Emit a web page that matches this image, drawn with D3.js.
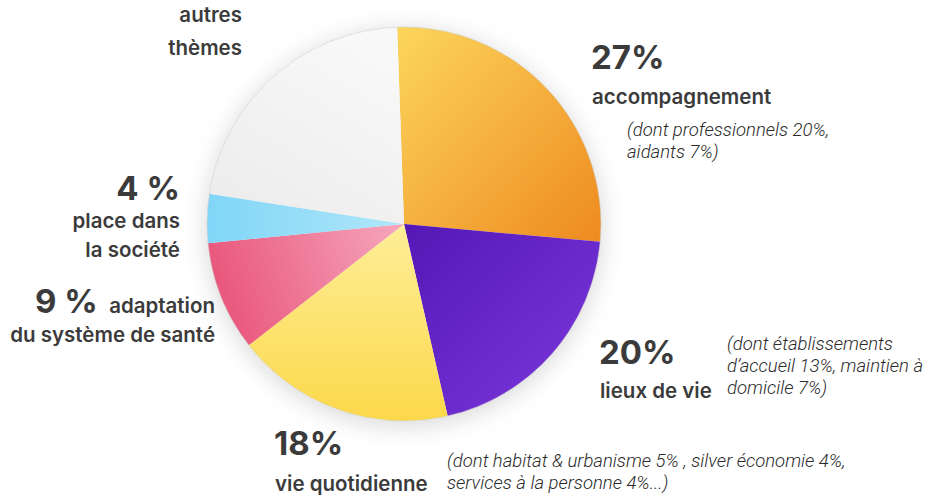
<!DOCTYPE html>
<html>
<head>
<meta charset="utf-8">
<script src="https://cdn.jsdelivr.net/npm/d3@7"></script>
<style>
  body { margin: 0; background: #fff; }
  .big { font-family: "Inter", "Lato", sans-serif; font-weight: 700; fill: #3b3b3b; }
  .lab { font-family: "Inter", "Lato", sans-serif; font-weight: 600; fill: #3b3b3b; }
  .note { font-family: "Roboto", sans-serif; font-style: italic; font-weight: 300; fill: #2a2a2a; }
</style>
</head>
<body>
<div id="chart"></div>
<script>
// slice data, clockwise from the top
var categories = ["accompagnement", "lieux de vie", "vie quotidienne", "adaptation du système de santé", "place dans la société", "autres thèmes"]
var values = [27, 20, 18, 9, 4, 22]
var gradients = [
  ["#fcd65c", "#ee8a1f"],
  ["#5318b6", "#7e38de"],
  ["#fdee98", "#fcd84a"],
  ["#e95479", "#f5a3ba"],
  ["#80d6f7", "#b0e6f9"],
  ["#ebebeb", "#f8f8f8"]
]
var gradDir = [
  [0, 0, 1, 1],
  [0, 0, 1, 1],
  [0, 0, 0, 1],
  [0, 0.5, 1, 0.3],
  [0, 0.5, 1, 0.5],
  [0, 1, 0.6, 0]
]

var width = 927, height = 497
var cx = 404, cy = 224, radius = 197

var svg = d3.select("#chart")
  .append("svg")
  .attr("width", width)
  .attr("height", height)

var defs = svg.append("defs")

var filter = defs.append("filter")
  .attr("id", "shadow")
  .attr("x", "-30%").attr("y", "-30%")
  .attr("width", "160%").attr("height", "160%")
filter.append("feDropShadow")
  .attr("dx", 0).attr("dy", 4)
  .attr("stdDeviation", 12)
  .attr("flood-color", "#000")
  .attr("flood-opacity", 0.16)

gradients.forEach(function(g, i) {
  var lg = defs.append("linearGradient")
    .attr("id", "grad" + i)
    .attr("x1", gradDir[i][0]).attr("y1", gradDir[i][1])
    .attr("x2", gradDir[i][2]).attr("y2", gradDir[i][3])
  lg.append("stop").attr("offset", "0%").attr("stop-color", g[0])
  lg.append("stop").attr("offset", "100%").attr("stop-color", g[1])
})

var pie = d3.pie()
  .sort(null)
  .startAngle(-2 * Math.PI / 180)
  .endAngle(358 * Math.PI / 180)

var arc = d3.arc().innerRadius(0).outerRadius(radius)

var g = svg.append("g")
  .attr("transform", "translate(" + cx + "," + cy + ")")

// background disc carries the shadow
g.append("circle")
  .attr("r", radius)
  .attr("fill", "#f2f2f2")
  .style("filter", "url(#shadow)")

g.selectAll("path")
  .data(pie(values))
  .enter()
  .append("path")
  .attr("d", arc)
  .attr("fill", function(d, i) { return "url(#grad" + i + ")" })

g.append("circle")
  .attr("r", radius)
  .attr("fill", "none")
  .attr("stroke", "#cfcfcf")
  .attr("stroke-width", 0.6)

// labels
function txt(x, y, cls, size, s, anchor) {
  svg.append("text")
    .attr("x", x).attr("y", y)
    .attr("class", cls)
    .attr("text-anchor", anchor || "start")
    .style("font-size", size + "px")
    .text(s)
}

var L = 20.5, N = 18.5

txt(242, 22, "lab", L, "autres", "end")
txt(242, 55, "lab", L, "thèmes", "end")

txt(591, 69, "big", 33, "27%")
txt(592, 104, "lab", L, "accompagnement")
txt(627, 136, "note", N, "(dont professionnels 20%,")
txt(627, 158, "note", N, "aidants 7%)")

txt(180, 200, "big", 33, "4 %", "end")
txt(180, 228, "lab", L, "place dans", "end")
txt(180, 257, "lab", L, "la société", "end")

txt(35, 313, "big", 33, "9 %")
txt(215, 313, "lab", L, "adaptation", "end")
txt(215, 342, "lab", L, "du système de santé", "end")

txt(599, 364, "big", 33, "20%")
txt(600, 398, "lab", L, "lieux de vie")
txt(727, 350, "note", N, "(dont établissements")
txt(727, 372, "note", N, "d’accueil 13%, maintien à")
txt(727, 394, "note", N, "domicile 7%)")

txt(274, 455, "big", 33, "18%")
txt(275, 491, "lab", L, "vie quotidienne")
txt(447, 467, "note", N, "(dont habitat & urbanisme 5% , silver économie 4%,")
txt(447, 489, "note", N, "services à la personne 4%...)")
</script>
</body>
</html>
